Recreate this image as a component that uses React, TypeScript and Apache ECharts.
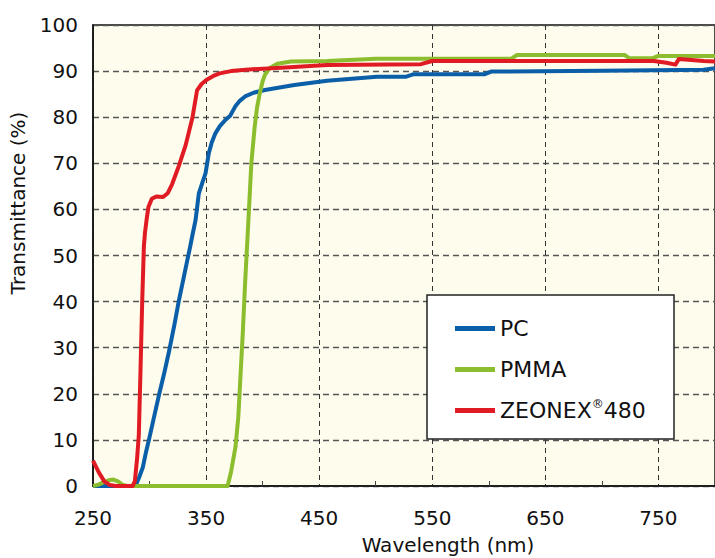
import React, { useEffect, useRef } from "react";
import * as echarts from "echarts";

const seriesNames = ["PC", "PMMA", "ZEONEX®480"];
const seriesColors = ["#0B5EA8", "#8CBD2E", "#E01B23"];

const pcWavelength = [250, 286, 289, 291, 294, 297, 300, 304, 308.6, 313, 317.4, 322, 326, 330, 333.4, 336, 338, 340.7, 343.6, 347, 349.5, 352.4, 355, 358.2, 362, 367, 371.3, 375.7, 380, 384.5, 392, 402, 428, 457, 501, 527, 533, 596, 602, 700, 790, 800];
const pcValues = [0, 0, 0.8, 2, 4, 7.5, 10.6, 15, 20, 24.5, 29.4, 35, 40.3, 45, 49, 52, 54.5, 57.7, 63.5, 66, 67.8, 72.2, 74.5, 76.5, 78, 79.4, 80.3, 82.3, 83.6, 84.5, 85.3, 85.9, 87, 87.9, 88.8, 88.8, 89.3, 89.3, 89.9, 90.1, 90.3, 90.6];

const pmmaWavelength = [250, 255, 260, 265, 268, 272, 276, 280, 369, 372, 376, 378.5, 380, 382.4, 384.5, 386, 387.5, 390, 393, 395, 397.5, 400, 402, 406, 413, 425, 457, 500, 620, 625, 720, 724, 745, 750, 800];
const pmmaValues = [0, 0.3, 0.9, 1.3, 1.4, 1.0, 0.3, 0, 0, 3, 8.5, 15, 22, 33, 44, 51, 58, 70, 78, 82, 85.2, 87.8, 89.2, 90.6, 91.6, 92.1, 92.2, 92.7, 92.7, 93.5, 93.5, 92.8, 92.8, 93.3, 93.3];

const zeonexWavelength = [250, 255, 260, 265, 270, 285, 287, 289, 290.5, 292, 293.5, 295, 296, 297.5, 299, 302, 306, 312, 316, 320, 326, 332, 338, 342, 346, 351, 356, 362, 372, 385, 420, 457, 540, 550, 746, 757, 765, 768, 790, 800];
const zeonexValues = [5.5, 3.0, 1.0, 0.2, 0, 0, 1, 6, 11, 25, 40, 52, 55, 58, 60.5, 62.3, 62.8, 62.7, 63.5, 65.5, 69.5, 74, 80, 85.8, 87.2, 88.2, 88.9, 89.5, 90, 90.3, 90.8, 91.3, 91.5, 92.2, 92.2, 91.8, 91.4, 92.6, 92.2, 92.1];

const xTitle = "Wavelength (nm)";
const yTitle = "Transmittance (%)";

const FONT = "'DejaVu Sans', sans-serif";

function pairs(xs: number[], ys: number[]) {
  return xs.map((x, i) => [x, ys[i]]);
}

export default function App() {
  const ref = useRef<HTMLDivElement>(null);
  useEffect(() => {
    if (!ref.current) return;
    const chart = echarts.init(ref.current, undefined, { renderer: "svg" });
    const allData = [
      pairs(pcWavelength, pcValues),
      pairs(pmmaWavelength, pmmaValues),
      pairs(zeonexWavelength, zeonexValues),
    ];
    chart.setOption({
      animation: false,
      textStyle: { fontFamily: FONT },
      grid: {
        left: 93,
        top: 25,
        right: -7,
        bottom: 72,
        show: true,
        backgroundColor: "#FEFCEC",
        borderColor: "#111",
        borderWidth: 1.5,
      },
      xAxis: {
        type: "value",
        min: 250,
        max: 800,
        interval: 100,
        axisLine: { show: true, lineStyle: { color: "#111", width: 1.5 } },
        axisTick: { show: false, inside: true },
        minorTick: { show: true, splitNumber: 2, length: 5, lineStyle: { color: "#444", width: 1 } },
        axisLabel: { color: "#111", fontSize: 20, margin: 22, fontFamily: FONT, showMaxLabel: false },
        splitLine: { show: true, lineStyle: { color: "#333", type: [5, 4], width: 1 } },
      },
      yAxis: {
        type: "value",
        min: 0,
        max: 100,
        interval: 10,
        axisLine: { show: true, lineStyle: { color: "#111", width: 1.5 } },
        axisTick: { show: false },
        axisLabel: { color: "#111", fontSize: 20, margin: 15, fontFamily: FONT },
        splitLine: { show: true, lineStyle: { color: "#555", type: [6, 4], width: 1.3 } },
      },
      legend: {
        orient: "vertical",
        left: 450,
        top: 311,
        z: 10,
        icon: "rect",
        itemWidth: 40,
        itemHeight: 5,
        itemGap: 16,
        data: seriesNames,
        formatter: (name: string) => name.replace("®", "{sup|®}"),
        textStyle: {
          fontSize: 22,
          color: "#111",
          fontFamily: FONT,
          lineHeight: 25,
          padding: [0, 0, 0, 0],
          rich: {
            sup: { fontSize: 12, verticalAlign: "top", lineHeight: 25, color: "#111", fontFamily: FONT },
          },
        },
      },
      graphic: [
        {
          type: "rect",
          z: 5,
          shape: { x: 427, y: 295, width: 247, height: 144 },
          style: { fill: "#fff", stroke: "#222", lineWidth: 1.5 },
        },
        {
          type: "text",
          x: 448,
          y: 545,
          style: { text: xTitle, fontSize: 20, fill: "#111", fontFamily: FONT, align: "center", verticalAlign: "middle" },
        },
        {
          type: "text",
          x: 18,
          y: 203,
          rotation: Math.PI / 2,
          style: { text: yTitle, fontSize: 20, fill: "#111", fontFamily: FONT, align: "center", verticalAlign: "middle" },
        },
      ],
      series: seriesNames.map((name, i) => ({
        name,
        type: "line",
        data: allData[i],
        showSymbol: false,
        symbol: "none",
        smooth: false,
        color: seriesColors[i],
        lineStyle: { color: seriesColors[i], width: 4, join: "round" },
      })),
    });
    return () => chart.dispose();
  }, []);
  return <div ref={ref} style={{ width: 715, height: 558, position: "absolute", left: 0, top: 0 }} />;
}
